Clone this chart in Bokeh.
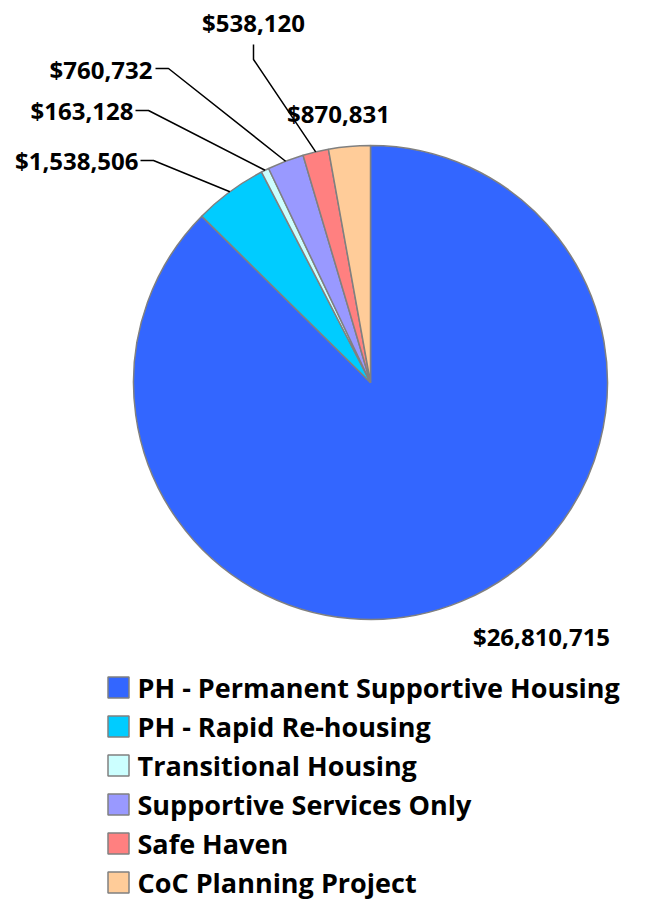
import math
from bokeh.plotting import figure
from bokeh.models import ColumnDataSource
from bokeh.core.properties import value
from bokeh.embed import file_html
from bokeh.resources import INLINE

# ---- data ----
categories = ["PH - Permanent Supportive Housing", "PH - Rapid Re-housing",
              "Transitional Housing", "Supportive Services Only",
              "Safe Haven", "CoC Planning Project"]
amounts = [26810715, 1538506, 163128, 760732, 538120, 870831]
value_labels = ["$26,810,715", "$1,538,506", "$163,128", "$760,732", "$538,120", "$870,831"]
colors = ["#3366FF", "#00CCFF", "#CCFFFF", "#9999FF", "#FF8080", "#FFCC99"]

# ---- layout (pixel coordinates, top-left origin) ----
W, H = 647, 901
def Y(py):
    return H - py

CX, CY, R = 370, 382, 237
label_px = [541, 138, 133, 152, 253, 338]
label_py = [636, 160, 110, 69, 22, 113]
label_align = ["center", "right", "right", "right", "center", "center"]
elbow_a = [None, (140, 160), (135, 110), (155, 68), (253, 44), None]
elbow_b = [None, (153, 160), (148, 110), (168, 68), (253, 59), None]
legend_row_py = [687, 726, 765, 804, 843, 882]
legend_box_px = 118
legend_text_px = 137
FONT = "Open Sans"

p = figure(width=W, height=H, x_range=(0, W), y_range=(0, H),
           output_backend="svg", toolbar_location=None, min_border=0)
p.axis.visible = False
p.grid.visible = False
p.outline_line_color = None
p.background_fill_color = "white"
p.border_fill_color = "white"

total = float(sum(amounts))
starts, ends, mids = [], [], []
cum = 0.0
for a in amounts:
    s = math.pi / 2 - cum / total * 2 * math.pi
    cum += a
    e = math.pi / 2 - cum / total * 2 * math.pi
    starts.append(s)
    ends.append(e)
    mids.append((s + e) / 2)

src = ColumnDataSource(dict(start=starts, end=ends, color=colors,
                            x=[CX] * len(amounts), y=[Y(CY)] * len(amounts)))
p.wedge(x="x", y="y", radius=R, start_angle="start", end_angle="end",
        direction="clock", fill_color="color", line_color="#808080",
        line_width=1.5, source=src)

# leader lines
for i in range(len(amounts)):
    if elbow_a[i] is None:
        continue
    ex = CX + R * math.cos(mids[i])
    ey = Y(CY) + R * math.sin(mids[i])
    xs = [elbow_a[i][0], elbow_b[i][0], ex]
    ys = [Y(elbow_a[i][1]), Y(elbow_b[i][1]), ey]
    p.line(xs, ys, line_color="black", line_width=1.5)

# value labels
for i in range(len(amounts)):
    p.text(x=[label_px[i]], y=[Y(label_py[i])], text=[value_labels[i]],
           text_font=value(FONT), text_font_style="bold",
           text_font_size="24px", text_align=label_align[i],
           text_baseline="middle", text_color="black")

# legend
p.rect(x=[legend_box_px] * len(categories), y=[Y(v) for v in legend_row_py],
       width=21, height=21, fill_color=colors, line_color="#808080",
       line_width=1.5)
p.text(x=[legend_text_px] * len(categories), y=[Y(v) for v in legend_row_py],
       text=categories, text_font=value(FONT), text_font_style="bold",
       text_font_size="27px", text_align="left", text_baseline="middle",
       text_color="black")

open("out.html", "w").write(file_html(p, INLINE))
